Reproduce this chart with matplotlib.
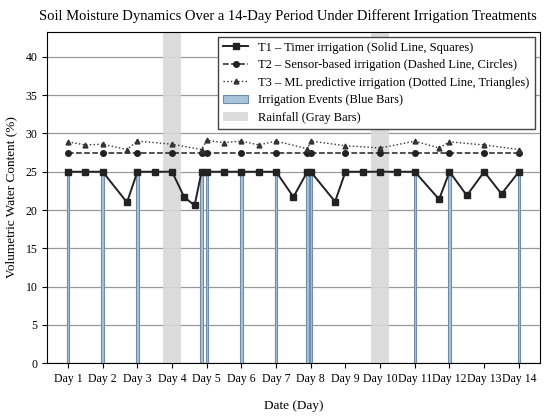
import matplotlib
matplotlib.use("Agg")
import matplotlib.pyplot as plt

# ---- data ----
day_labels = ["Day 1", "Day 2", "Day 3", "Day 4", "Day 5", "Day 6", "Day 7",
              "Day 8", "Day 9", "Day 10", "Day 11", "Day 12", "Day 13", "Day 14"]
day_ticks = list(range(1, 15))

t1_x = [1, 1.5, 2, 2.7, 3, 3.5, 4, 4.35, 4.65, 4.85, 5, 5.5, 6, 6.5, 7, 7.5,
        7.9, 8, 8.7, 9, 9.5, 10, 10.5, 11, 11.7, 12, 12.5, 13, 13.5, 14]
t1_y = [25, 25, 25, 21.0, 25, 25, 25, 21.7, 20.6, 25, 25, 25, 25, 25, 25, 21.7,
        25, 25, 21.1, 25, 25, 25, 25, 25, 21.4, 25, 21.9, 25, 22.1, 25]

t2_x = [1, 2, 3, 4, 4.85, 5, 6, 7, 7.9, 8, 9, 10, 11, 12, 13, 14]
t2_y = [27.4] * 16

t3_x = [1, 1.5, 2, 2.7, 3, 4, 4.85, 5, 5.5, 6, 6.5, 7, 7.9, 8, 9, 10, 11,
        11.7, 12, 13, 14]
t3_y = [28.9, 28.5, 28.6, 27.9, 29.0, 28.6, 27.9, 29.1, 28.8, 29.0, 28.5,
        29.0, 28.0, 29.0, 28.4, 28.1, 29.0, 28.1, 28.9, 28.5, 27.9]

irr_x = [1, 2, 3, 4.85, 5, 6, 7, 7.9, 8, 11, 12, 14]
irr_h = [25] * 12

rain_x = [4, 10]
rain_h = [44, 44]

plt.rcParams['font.family'] = ['Liberation Serif', 'DejaVu Serif']

fig = plt.figure(figsize=(5.49, 4.16), dpi=100)
ax = fig.add_axes([0.086, 0.127, 0.897, 0.797])

rain = ax.bar(rain_x, rain_h, width=0.5, color='#d9d9d9', alpha=0.9, zorder=1,
              label='Rainfall (Gray Bars)')
irr = ax.bar(irr_x, irr_h, width=0.07, color='#a9c3da', edgecolor='#6f8ca8',
             linewidth=0.8, zorder=2, label='Irrigation Events (Blue Bars)')

l1, = ax.plot(t1_x, t1_y, '-', color='#222222', lw=1.4, marker='s', ms=4,
              zorder=4, label='T1 – Timer irrigation (Solid Line, Squares)')
l2, = ax.plot(t2_x, t2_y, '--', color='#222222', lw=1.1, marker='o', ms=4,
              zorder=4, label='T2 – Sensor-based irrigation (Dashed Line, Circles)')
l3, = ax.plot(t3_x, t3_y, ':', color='#333333', lw=1.0, marker='^', ms=3.5,
              zorder=4, label='T3 – ML predictive irrigation (Dotted Line, Triangles)')

ax.set_xlim(0.4, 14.6)
ax.set_ylim(0, 43.3)
ax.set_yticks(range(0, 45, 5))
ax.set_xticks(day_ticks)
ax.set_xticklabels(day_labels, fontsize=8.5)
ax.tick_params(axis='y', labelsize=8.5)
ax.grid(axis='y', color='#999999', lw=0.9)
ax.set_axisbelow(True)

ax.set_xlabel('Date (Day)', fontsize=9.5, labelpad=11)
ax.set_ylabel('Volumetric Water Content (%)', fontsize=9.5, labelpad=6)
fig.text(0.525, 0.962,
         'Soil Moisture Dynamics Over a 14-Day Period Under Different Irrigation Treatments',
         fontsize=10.5, ha='center', va='center')

ax.legend([l1, l2, l3, irr, rain],
          [l1.get_label(), l2.get_label(), l3.get_label(),
           irr.get_label(), rain.get_label()],
          loc='upper right', fontsize=9, frameon=True, fancybox=False,
          edgecolor='#444444', framealpha=1, borderaxespad=0.4,
          labelspacing=0.45)

fig.savefig('out.png', dpi=100)
